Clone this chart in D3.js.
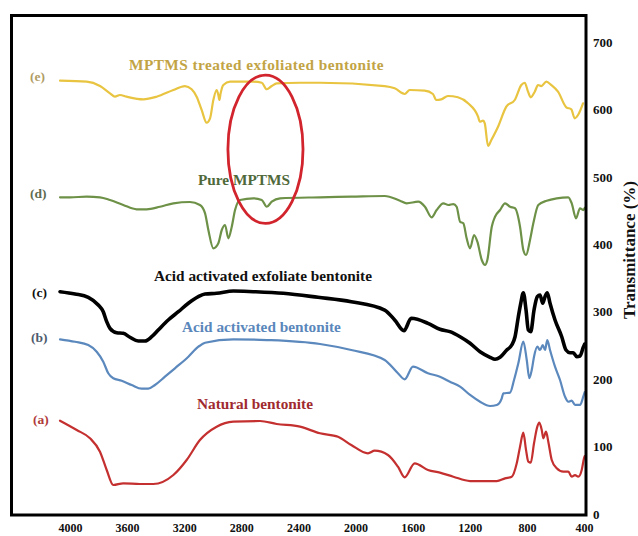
<!DOCTYPE html>
<html>
<head>
<meta charset="utf-8">
<script src="https://cdn.jsdelivr.net/npm/d3@7/dist/d3.min.js"></script>
<style>
  html, body { margin: 0; padding: 0; background: #fff; }
  svg { display: block; }
  text { font-family: "Liberation Serif", "Times New Roman", serif; font-weight: bold; }
</style>
</head>
<body>
<svg id="chart" width="638" height="536"></svg>
<script>
// FTIR spectra (wavenumber in cm-1, transmittance offset per trace)
const wavenumberTicks = [4000, 3600, 3200, 2800, 2400, 2000, 1600, 1200, 800, 400];
const transmittanceTicks = [0, 100, 200, 300, 400, 500, 600, 700];

// (e) MPTMS treated exfoliated bentonite
const eWave = [4070, 3883, 3790, 3720, 3685, 3650, 3603, 3487, 3393, 3276, 3195, 3148, 3113, 3078, 3043, 3019, 2996, 2973, 2961, 2954, 2945, 2926, 2879, 2716, 2657, 2622, 2587, 2552, 2389, 2249, 1796, 1726, 1656, 1621, 1516, 1458, 1435, 1400, 1353, 1283, 1212, 1142, 1130, 1107, 1095, 1072, 1049, 1002, 944, 885, 839, 815, 792, 773, 745, 722, 699, 664, 629, 582, 524, 489, 465, 442, 407];
const eT = [642.6, 641.1, 634.7, 623.9, 618.9, 621.4, 618.9, 615.0, 618.9, 628.8, 634.7, 629.9, 618.9, 599.2, 580.3, 586.8, 614.0, 628.8, 621.4, 614.0, 623.9, 636.2, 641.1, 641.1, 639.6, 629.9, 634.7, 638.7, 639.6, 639.6, 634.7, 631.3, 622.9, 628.8, 627.8, 622.9, 614.0, 615.0, 619.9, 618.0, 609.1, 589.2, 581.8, 583.3, 579.4, 545.8, 554.7, 574.4, 604.1, 614.0, 636.2, 639.6, 626.3, 618.0, 626.3, 636.2, 634.7, 641.1, 636.2, 626.3, 603.2, 600.2, 586.8, 591.7, 609.1];

// (d) Pure MPTMS
const dWave = [4070, 4000, 3883, 3790, 3720, 3627, 3533, 3463, 3370, 3276, 3160, 3090, 3054, 3031, 2996, 2961, 2937, 2914, 2891, 2867, 2844, 2809, 2716, 2657, 2622, 2587, 2529, 2249, 2030, 1796, 1689, 1642, 1561, 1514, 1467, 1432, 1385, 1350, 1315, 1292, 1268, 1245, 1222, 1198, 1170, 1147, 1116, 1093, 1077, 1046, 1023, 988, 953, 918, 883, 848, 825, 806, 778, 755, 720, 661, 591, 510, 486, 456, 428, 405, 395];
const dT = [469.7, 469.7, 470.6, 469.7, 465.7, 458.3, 451.9, 451.9, 455.7, 460.8, 462.7, 458.3, 445.9, 421.2, 394.0, 401.5, 421.2, 428.6, 408.9, 426.1, 450.8, 465.7, 468.2, 465.7, 455.7, 463.2, 468.2, 469.7, 470.6, 471.6, 464.6, 460.8, 463.2, 455.7, 440.0, 450.8, 460.8, 458.3, 459.7, 455.7, 433.5, 431.1, 408.9, 394.0, 413.8, 403.8, 376.7, 369.3, 376.7, 426.1, 440.9, 450.8, 460.8, 455.7, 453.4, 426.1, 391.5, 384.1, 406.4, 431.1, 458.3, 464.6, 468.2, 469.7, 460.8, 438.5, 453.4, 450.8, 453.8];

// (c) Acid activated exfoliate bentonite
const cWave = [4070, 3965, 3872, 3802, 3767, 3743, 3720, 3673, 3627, 3580, 3522, 3475, 3428, 3382, 3312, 3241, 3171, 3101, 3054, 2973, 2856, 2716, 2506, 2263, 2030, 1796, 1726, 1661, 1610, 1493, 1409, 1339, 1268, 1198, 1128, 1058, 1023, 988, 941, 906, 883, 860, 843, 825, 806, 790, 773, 750, 727, 708, 689, 673, 657, 638, 603, 556, 526, 498, 475, 451, 428, 405, 395];
const cT = [329.7, 326.3, 321.4, 310.0, 300.0, 285.2, 275.4, 268.9, 268.0, 262.1, 256.6, 256.6, 262.9, 272.9, 287.7, 300.0, 312.5, 322.3, 326.3, 327.3, 330.7, 329.7, 327.3, 321.4, 314.9, 302.5, 287.7, 271.8, 290.2, 282.8, 273.9, 270.4, 262.9, 253.2, 240.7, 232.4, 229.4, 232.4, 243.2, 250.6, 262.9, 292.6, 312.5, 328.2, 302.5, 272.9, 270.4, 302.5, 322.3, 324.8, 312.5, 322.3, 328.2, 312.5, 287.7, 262.9, 243.2, 239.2, 239.2, 233.3, 234.3, 247.2, 252.0];

// (b) Acid activated bentonite
const bWave = [4070, 3965, 3872, 3813, 3767, 3732, 3697, 3638, 3568, 3498, 3452, 3405, 3335, 3265, 3171, 3101, 3054, 2856, 2622, 2249, 2030, 1796, 1703, 1656, 1598, 1493, 1409, 1339, 1268, 1198, 1128, 1058, 1011, 976, 965, 918, 890, 860, 825, 801, 783, 766, 750, 727, 708, 689, 673, 657, 638, 603, 568, 533, 510, 486, 463, 428, 405, 395];
const bT = [259.1, 255.5, 250.6, 240.7, 225.9, 208.7, 201.3, 197.7, 191.3, 185.8, 185.8, 191.3, 203.6, 216.1, 233.3, 248.1, 254.0, 259.1, 258.0, 252.1, 243.2, 228.4, 208.7, 199.8, 218.5, 208.7, 203.6, 196.2, 188.8, 176.5, 166.5, 160.2, 161.7, 171.6, 179.0, 179.9, 198.7, 223.5, 255.5, 228.4, 201.3, 213.6, 233.3, 248.1, 243.2, 250.6, 243.2, 258.0, 243.2, 218.5, 198.7, 174.0, 166.5, 168.0, 161.7, 161.7, 174.0, 180.9];

// (a) Natural bentonite
const aWave = [4070, 3953, 3860, 3790, 3743, 3697, 3627, 3510, 3417, 3276, 3183, 3090, 2973, 2856, 2669, 2552, 2389, 2249, 2123, 2030, 1913, 1866, 1773, 1703, 1656, 1586, 1493, 1409, 1315, 1198, 1011, 953, 906, 871, 848, 825, 806, 790, 773, 750, 727, 713, 696, 685, 666, 650, 626, 591, 545, 510, 486, 463, 440, 416, 400, 395];
const aT = [138.4, 124.6, 112.3, 92.4, 65.3, 43.0, 45.5, 44.5, 44.5, 57.8, 80.1, 109.7, 129.5, 136.9, 137.9, 133.5, 129.5, 119.7, 114.6, 102.3, 90.0, 93.9, 87.5, 70.1, 54.4, 75.2, 65.3, 61.3, 55.3, 48.9, 48.9, 52.9, 55.3, 75.2, 99.8, 120.6, 94.9, 77.6, 76.1, 104.9, 129.5, 135.4, 124.6, 112.3, 122.1, 107.2, 80.1, 67.8, 62.7, 62.7, 55.3, 57.8, 55.3, 65.3, 82.6, 86.0];

const seriesNames = ["MPTMS treated exfoliated bentonite", "Pure MPTMS", "Acid activated exfoliate bentonite", "Acid activated bentonite", "Natural bentonite"];
const seriesTags = ["(e)", "(d)", "(c)", "(b)", "(a)"];

// Highlighted region around the S–H stretch (~2560 cm-1)
const markWave = 2631, markT = 541, markHalfWave = 263, markHalfT = 110;

const svg = d3.select("#chart");
const frame = { left: 11.5, top: 15.5, right: 586, bottom: 515 };

const x = d3.scaleLinear().domain([4000, 400]).range([70, 584]);
const y = d3.scaleLinear().domain([0, 700]).range([514, 42]);

const traces = [
  { wave: eWave, t: eT, color: "#e8c440", width: 2.2, name: seriesNames[0], tag: seriesTags[0], spacing: 0.45,
    label: { x: 129, y: 70, fill: "#c2a445" }, tagPos: { x: 30, y: 81, fill: "#b09c64" } },
  { wave: dWave, t: dT, color: "#6e9148", width: 2.2, name: seriesNames[1], tag: seriesTags[1], spacing: 0,
    label: { x: 198, y: 185, fill: "#50693a" }, tagPos: { x: 30, y: 198, fill: "#5f6b4f" } },
  { wave: cWave, t: cT, color: "#000000", width: 3.6, name: seriesNames[2], tag: seriesTags[2], spacing: 0,
    label: { x: 154, y: 281, fill: "#111111" }, tagPos: { x: 32, y: 297, fill: "#111111" } },
  { wave: bWave, t: bT, color: "#5b88bd", width: 2.2, name: seriesNames[3], tag: seriesTags[3], spacing: 0,
    label: { x: 182, y: 332, fill: "#5a87bb" }, tagPos: { x: 31, y: 342, fill: "#4e5b6d" } },
  { wave: aWave, t: aT, color: "#c4302f", width: 2.2, name: seriesNames[4], tag: seriesTags[4], spacing: 0,
    label: { x: 197, y: 409, fill: "#a02a2f" }, tagPos: { x: 33, y: 424, fill: "#b03a3a" } }
];

const line = d3.line()
  .x(d => x(d[0]))
  .y(d => y(d[1]))
  .curve(d3.curveMonotoneX);

const plot = svg.append("g");

traces.forEach(tr => {
  const pts = tr.wave.map((w, i) => [w, tr.t[i]]);
  plot.append("path")
    .datum(pts)
    .attr("d", line)
    .attr("fill", "none")
    .attr("stroke", tr.color)
    .attr("stroke-width", tr.width)
    .attr("stroke-linejoin", "round")
    .attr("stroke-linecap", "round");

  svg.append("text")
    .attr("x", tr.label.x).attr("y", tr.label.y)
    .attr("font-size", 15.3)
    .attr("letter-spacing", tr.spacing)
    .attr("fill", tr.label.fill)
    .text(tr.name);

  svg.append("text")
    .attr("x", tr.tagPos.x).attr("y", tr.tagPos.y)
    .attr("font-size", 13.5)
    .attr("fill", tr.tagPos.fill)
    .text(tr.tag);
});

// annotation ellipse
svg.append("ellipse")
  .attr("cx", x(markWave))
  .attr("cy", y(markT))
  .attr("rx", Math.abs(x(markWave - markHalfWave) - x(markWave)))
  .attr("ry", Math.abs(y(markT + markHalfT) - y(markT)))
  .attr("fill", "none")
  .attr("stroke", "#d2242d")
  .attr("stroke-width", 2.8);

// plot frame
svg.append("rect")
  .attr("x", frame.left).attr("y", frame.top)
  .attr("width", frame.right - frame.left)
  .attr("height", frame.bottom - frame.top)
  .attr("fill", "none")
  .attr("stroke", "#000")
  .attr("stroke-width", 3);

// bottom axis labels (no tick lines)
const xAxis = d3.axisBottom(x).tickValues(wavenumberTicks).tickFormat(d3.format("d")).tickSize(0).tickPadding(0);
const gx = svg.append("g").attr("transform", "translate(0,523)").call(xAxis);
gx.select(".domain").remove();
gx.selectAll("text")
  .attr("font-family", "Liberation Serif, serif")
  .attr("font-weight", "bold")
  .attr("font-size", 12)
  .attr("fill", "#111");

// right axis labels
const yAxis = d3.axisRight(y).tickValues(transmittanceTicks).tickFormat(d3.format("d")).tickSize(0).tickPadding(0);
const gy = svg.append("g").attr("transform", "translate(593,0)").call(yAxis);
gy.select(".domain").remove();
gy.selectAll("text")
  .attr("font-family", "Liberation Serif, serif")
  .attr("font-weight", "bold")
  .attr("font-size", 13)
  .attr("fill", "#111");

svg.append("text")
  .attr("transform", "translate(635,250) rotate(-90)")
  .attr("text-anchor", "middle")
  .attr("font-size", 17)
  .attr("fill", "#111")
  .text("Transmittance (%)");
</script>
</body>
</html>
